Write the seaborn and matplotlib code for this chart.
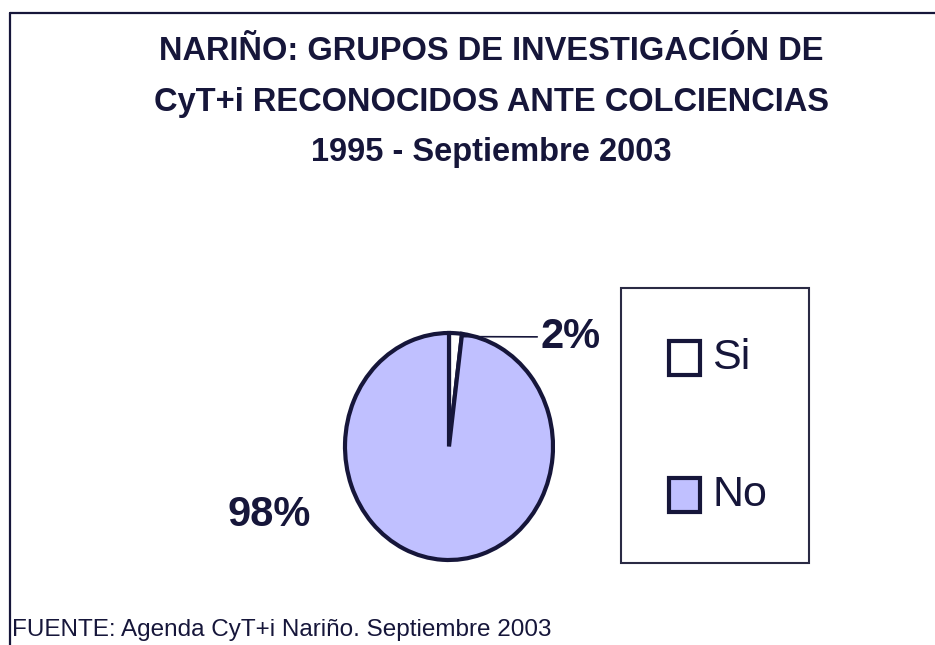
import math
import matplotlib
matplotlib.use('Agg')
import matplotlib.pyplot as plt
import seaborn as sns
from matplotlib.patches import Rectangle
from matplotlib.lines import Line2D

# datos del gráfico
labels = ['Si', 'No']
values = [2, 98]
pct_labels = ['2%', '98%']
colors = ['#ffffff', '#c0c0ff']
title_lines = ['NARIÑO: GRUPOS DE INVESTIGACIÓN DE',
               'CyT+i RECONOCIDOS ANTE COLCIENCIAS',
               '1995 - Septiembre 2003']
fuente = 'FUENTE: Agenda CyT+i Nariño. Septiembre 2003'

dark = '#16163a'

sns.set_style('white')
plt.rcParams['font.family'] = ['Liberation Sans', 'DejaVu Sans']

W, H = 935, 645
fig = plt.figure(figsize=(W / 100, H / 100), dpi=100)
fig.patch.set_facecolor('white')


def fx(x):
    return x / W


def fy(y):
    return 1 - y / H


# marco superior e izquierdo
fig.add_artist(Line2D([fx(10), 1], [fy(13), fy(13)], color=dark, lw=1.6))
fig.add_artist(Line2D([fx(10), fx(10)], [fy(13), 0], color=dark, lw=1.6))

# título
for txt, yc in zip(title_lines, [52, 103, 152]):
    fig.text(fx(491), fy(yc), txt, ha='center', va='center',
             fontsize=23.5, fontweight='bold', color=dark)

# torta
ax = fig.add_axes([fx(345), fy(560), 208 / W, 227 / H])
wedges, _ = ax.pie(values, colors=colors, startangle=90, counterclock=False,
                   wedgeprops=dict(edgecolor=dark, linewidth=3.0))
for w in wedges:
    w.set_clip_on(False)
ax.set_aspect('auto')
ax.set_xlim(-1, 1)
ax.set_ylim(-1, 1)
ax.axis('off')

# etiquetas de porcentaje
mid = math.radians(90 - 360 * values[0] / sum(values) / 2)
ax.annotate(pct_labels[0], xy=(math.cos(mid) + 0.06, math.sin(mid) - 0.03),
            xytext=(0.88, 0.965), ha='left', va='center',
            fontsize=30, fontweight='bold', color=dark,
            arrowprops=dict(arrowstyle='-', color=dark, lw=1.2,
                            shrinkA=0, shrinkB=0),
            annotation_clip=False)
ax.text(-1.73, -0.60, pct_labels[1], ha='center', va='center',
        fontsize=30, fontweight='bold', color=dark, clip_on=False)

# leyenda
fig.add_artist(Rectangle((fx(621), fy(563)), 188 / W, 275 / H,
                         transform=fig.transFigure, fill=False,
                         edgecolor='#2a2a44', lw=1.5))
for lab, col, yc in zip(labels, colors, [358, 495]):
    fig.add_artist(Rectangle((fx(669), fy(yc + 17)), 31 / W, 34 / H,
                             transform=fig.transFigure, facecolor=col,
                             edgecolor=dark, lw=3.0))
    fig.text(fx(712), fy(yc), lab, ha='left', va='center',
             fontsize=31, color=dark)

# fuente
fig.text(fx(12), fy(630), fuente, ha='left', va='center',
         fontsize=17.5, color=dark)

fig.savefig('out.png', dpi=100, facecolor='white')
